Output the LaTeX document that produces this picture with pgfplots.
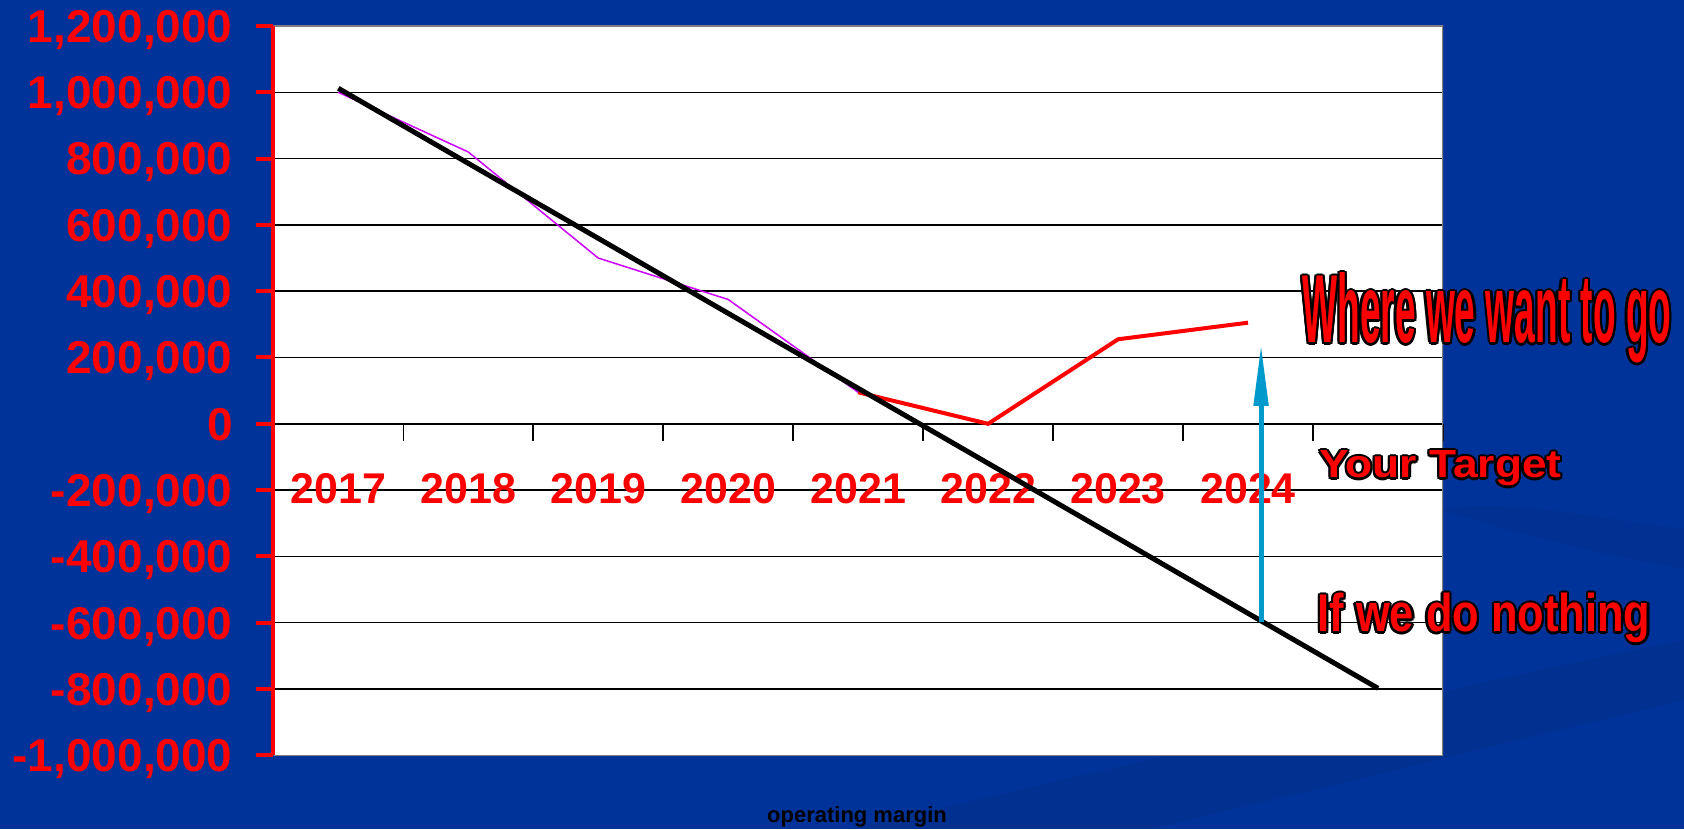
\documentclass[border=0pt]{standalone}
\usepackage{fontspec}
\setmainfont{Liberation Sans}
\usepackage{graphicx}
\usepackage{pgfplots}
\pgfplotsset{compat=1.18}
\usetikzlibrary{arrows.meta}
\definecolor{bgblue}{RGB}{0,51,153}
\definecolor{mag}{RGB}{204,0,255}
\definecolor{arrowblue}{RGB}{0,153,204}
\definecolor{framegray}{RGB}{128,128,128}

\newcommand{\otext}[5]{%
  \foreach \ang in {0,30,...,330}{%
    \node[anchor=base west, inner sep=0pt, text=black] at ([shift={(\ang:1.1pt)}] #1,#2) {\resizebox{#3}{#4}{\bfseries #5}};}%
  \node[anchor=base west, inner sep=0pt, text=red] at (#1,#2) {\resizebox{#3}{#4}{\bfseries #5}};}

\begin{document}
\begin{tikzpicture}
\fill[bgblue] (0,0) rectangle (842pt,414.5pt);
% faint background swooshes
\fill[black, opacity=0.06] (425pt,0pt) .. controls (600pt,40pt) and (720pt,70pt) .. (842pt,94.5pt) -- (842pt,64.5pt) .. controls (740pt,40pt) and (660pt,20pt) .. (575pt,0pt) -- cycle;
\fill[black, opacity=0.05] (720pt,160pt) .. controls (780pt,140pt) and (842pt,130pt) .. (842pt,130pt) -- (842pt,150pt) .. controls (800pt,155pt) and (760pt,165pt) .. (720pt,160pt) -- cycle;
\begin{axis}[
  at={(136.65pt,36.85pt)}, anchor=south west,
  scale only axis, width=584.85pt, height=364.65pt,
  xmin=-0.5, xmax=8.5, ymin=-1000000, ymax=1200000,
  axis background/.style={fill=white},
  axis x line=middle, axis y line=left,
  axis line style={-},
  x axis line style={black, line width=0.75pt},
  y axis line style={red, line width=2pt},
  tick align=outside,
  scaled y ticks=false,
  xtick={-0.5,0.5,1.5,2.5,3.5,4.5,5.5,6.5,7.5,8.5}, xticklabels={},
  x tick style={black, line width=0.75pt},
  major tick length=8.5pt,
  ytick={-1000000,-800000,-600000,-400000,-200000,0,200000,400000,600000,800000,1000000,1200000},
  yticklabels={{-1,000,000},{-800,000},{-600,000},{-400,000},{-200,000},{0},{200,000},{400,000},{600,000},{800,000},{1,000,000},{1,200,000}},
  y tick style={red, line width=2pt},
  ymajorgrids, grid style={black, line width=0.75pt},
  yticklabel style={font=\fontsize{23}{27}\selectfont\bfseries, text=red, anchor=base east, inner sep=0pt, xshift=-11.65pt, yshift=-8.2pt},
  extra x ticks={0,1,2,3,4,5,6,7},
  extra x tick labels={2017,2018,2019,2020,2021,2022,2023,2024},
  extra x tick style={major tick length=0pt, xticklabel style={font=\fontsize{21.5}{25}\selectfont\bfseries, text=red, anchor=base, inner sep=0pt, yshift=-40.1pt}},
]
\addplot[mag, line width=0.75pt] coordinates {(0,1000000) (1,820000) (2,500000) (3,375000) (4,95000)};
\addplot[red, line width=2pt] coordinates {(4,95000) (5,0) (6,255000) (7,305000)};
\addplot[black, line width=2.5pt] coordinates {(0,1012000) (8,-798000)};
\addplot[arrowblue, line width=2.5pt, -{Triangle[length=31pt,width=7pt]}] coordinates {(7.1,-598000) (7.1,241000)};
\draw[framegray, line width=0.75pt] (rel axis cs:0,0) -- (rel axis cs:1,0) -- (rel axis cs:1,1) -- (rel axis cs:0,1);
\draw[red, line width=2pt] (rel axis cs:0,0) -- (rel axis cs:0,1);
\end{axis}
\otext{651pt}{243pt}{184.5pt}{35pt}{Where we want to go}
\otext{659.5pt}{175.5pt}{121pt}{13.5pt}{Your Target}
\otext{658.5pt}{98.5pt}{166.5pt}{19.25pt}{If we do nothing}
\node[anchor=base, inner sep=0pt, font=\fontsize{11}{13}\selectfont\bfseries, text=black] at (428.5pt,3.15pt) {operating margin};
\pgfresetboundingbox
\useasboundingbox (0,0) rectangle (842pt,414.5pt);
\end{tikzpicture}
\end{document}
